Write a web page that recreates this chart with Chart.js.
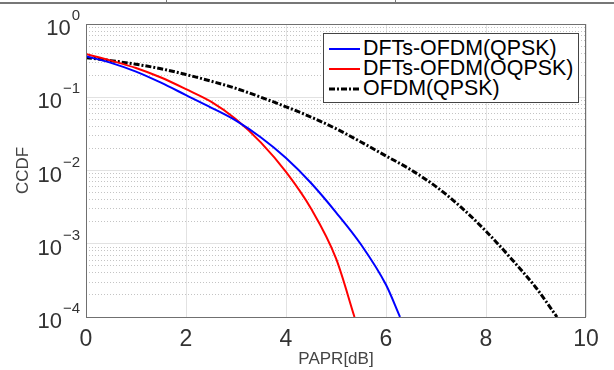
<!DOCTYPE html>
<html>
<head>
<meta charset="utf-8">
<script src="https://cdn.jsdelivr.net/npm/chart.js@4"></script>
<style>
  body { margin: 0; background: #fff; }
  #wrap { position: relative; width: 614px; height: 370px; }
  .rule { position: absolute; background: #777; }
  #legend {
    position: absolute; left: 323px; top: 33px; width: 256px; height: 70px;
    border: 1px solid #444; background: #fff;
    font-family: "Liberation Sans", Arial, sans-serif; font-size: 21.4px; color: #000;
    box-sizing: border-box; padding-top: 4px;
  }
  #legend div { height: 20px; line-height: 20px; white-space: nowrap; }
  #legend svg { vertical-align: middle; margin: 0 3px 0 5px; }
</style>
</head>
<body>
<div id="wrap">
  <canvas id="ccdfChart" width="614" height="370"></canvas>
  <div class="rule" style="left:0;top:2px;width:614px;height:2px"></div>
  <div class="rule" style="left:166px;top:0;width:1px;height:3px"></div>
  <div class="rule" style="left:395px;top:0;width:1px;height:3px"></div>
  <div id="legend"></div>
</div>
<script>
// PAPR [dB] vs CCDF
const qpskX = [0, 0.5, 1, 1.5, 2, 2.5, 3, 3.5, 4, 4.5, 5, 5.5, 6, 6.28];
const qpskY = [0.363, 0.295, 0.224, 0.158, 0.107, 0.0724, 0.0479, 0.0282, 0.0148, 0.00676, 0.00269, 0.000977, 0.000275, 0.0001];

const oqpskX = [0, 0.5, 1, 1.5, 2, 2.5, 3, 3.5, 4, 4.5, 5, 5.37];
const oqpskY = [0.389, 0.316, 0.251, 0.186, 0.129, 0.0871, 0.0501, 0.024, 0.00955, 0.00302, 0.000631, 0.0001];

const ofdmX = [0, 0.5, 1, 1.5, 2, 2.5, 3, 3.5, 4, 4.5, 5, 5.5, 6, 6.5, 7, 7.5, 8, 8.5, 9, 9.42];
const ofdmY = [0.347, 0.316, 0.282, 0.245, 0.204, 0.166, 0.132, 0.1, 0.0741, 0.0537, 0.0372, 0.0245, 0.0158, 0.0102, 0.00603, 0.00316, 0.00148, 0.000631, 0.000251, 0.0001];

const seriesNames = ['DFTs-OFDM(QPSK)', 'DFTs-OFDM(OQPSK)', 'OFDM(QPSK)'];
const xTicks = [0, 2, 4, 6, 8, 10];
const yDecades = [1, 0.1, 0.01, 0.001, 0.0001];
const yExpLabels = ['0', '\u22121', '\u22122', '\u22123', '\u22124'];

function toPoints(xs, ys) {
    return xs.map((x, i) => ({ x: x, y: ys[i] }));
}

// every 1..9 x 10^k between 1e-4 and 1
function logTicks() {
    const out = [];
    for (let k = -4; k < 0; k++) {
        for (let m = 1; m < 10; m++) out.push({ value: m * Math.pow(10, k) });
    }
    out.push({ value: 1 });
    return out;
}
function isDecade(v) {
    return yDecades.some(d => Math.abs(v / d - 1) < 1e-6);
}

// box round the plot and the 10^n labels
const framePlugin = {
    id: 'frame',
    afterDraw(chart) {
        const ctx = chart.ctx;
        const a = chart.chartArea;
        const y = chart.scales.y;
        ctx.save();
        ctx.strokeStyle = '#707070';
        ctx.lineWidth = 1;
        ctx.strokeRect(a.left + 0.5, a.top + 0.5, a.right - a.left - 1, a.bottom - a.top);
        ctx.fillStyle = '#333';
        ctx.textBaseline = 'middle';
        yDecades.forEach((d, i) => {
            const py = y.getPixelForValue(d);
            ctx.font = '15px "Liberation Sans", Arial, sans-serif';
            const ew = ctx.measureText(yExpLabels[i]).width;
            ctx.textAlign = 'right';
            ctx.fillText(yExpLabels[i], 80, py - 8);
            ctx.font = '22px "Liberation Sans", Arial, sans-serif';
            ctx.fillText('10', 80 - ew - 1, py + 5);
        });
        ctx.restore();
    }
};

const ctx = document.getElementById('ccdfChart').getContext('2d');
const ccdfChart = new Chart(ctx, {
    type: 'line',
    data: {
        datasets: [{
            label: seriesNames[0],
            data: toPoints(qpskX, qpskY),
            borderColor: '#0000ff',
            borderWidth: 2
        }, {
            label: seriesNames[1],
            data: toPoints(oqpskX, oqpskY),
            borderColor: '#ff0000',
            borderWidth: 2
        }, {
            label: seriesNames[2],
            data: toPoints(ofdmX, ofdmY),
            borderColor: '#000000',
            borderWidth: 3,
            borderDash: [6, 2, 2, 2]
        }]
    },
    options: {
        responsive: false,
        animation: false,
        devicePixelRatio: 1,
        layout: { padding: { top: 24, right: 28, bottom: 0, left: 0 } },
        elements: {
            point: { radius: 0 },
            line: { cubicInterpolationMode: 'monotone', fill: false }
        },
        plugins: {
            legend: { display: false },
            tooltip: { enabled: false }
        },
        scales: {
            x: {
                type: 'linear',
                min: 0,
                max: 10,
                afterBuildTicks: s => { s.ticks = xTicks.map(v => ({ value: v })); },
                afterFit: s => { s.height = 53; },
                grid: { color: '#e2e2e2', drawTicks: false },
                border: { display: false },
                ticks: {
                    padding: 9,
                    color: '#333',
                    font: { family: '"Liberation Sans", Arial, sans-serif', size: 23 }
                },
                title: {
                    display: true,
                    text: 'PAPR[dB]',
                    color: '#444',
                    padding: { top: 0, bottom: 0 },
                    font: { family: '"Liberation Sans", Arial, sans-serif', size: 17 }
                }
            },
            y: {
                type: 'logarithmic',
                position: 'left',
                min: 0.0001,
                max: 1,
                afterBuildTicks: s => { s.ticks = logTicks(); },
                afterFit: s => { s.width = 86; },
                grid: {
                    color: c => isDecade(c.tick.value) ? 'rgba(0,0,0,0)' : '#c4c4c4',
                    drawTicks: false
                },
                border: { display: false, dash: [1, 2] },
                ticks: { display: false },
                title: {
                    display: true,
                    text: 'CCDF',
                    color: '#444',
                    padding: { top: 13, bottom: 0 },
                    font: { family: '"Liberation Sans", Arial, sans-serif', size: 17 }
                }
            },
            y2: {
                type: 'logarithmic',
                position: 'left',
                min: 0.0001,
                max: 1,
                afterBuildTicks: s => { s.ticks = yDecades.map(v => ({ value: v })); },
                afterFit: s => { s.width = 0; },
                grid: { color: '#e2e2e2', drawTicks: false },
                border: { display: false },
                ticks: { display: false }
            }
        }
    },
    plugins: [framePlugin]
});

// legend built from the chart's datasets
const legendBox = document.getElementById('legend');
ccdfChart.data.datasets.forEach(ds => {
    const row = document.createElement('div');
    const dash = ds.borderDash ? ds.borderDash.join(',') : 'none';
    row.innerHTML = '<svg width="31" height="6"><line x1="0" y1="3" x2="31" y2="3" stroke="' +
        ds.borderColor + '" stroke-width="' + ds.borderWidth + '" stroke-dasharray="' + dash + '"/></svg>' +
        '<span>' + ds.label + '</span>';
    legendBox.appendChild(row);
});
</script>
</body>
</html>
